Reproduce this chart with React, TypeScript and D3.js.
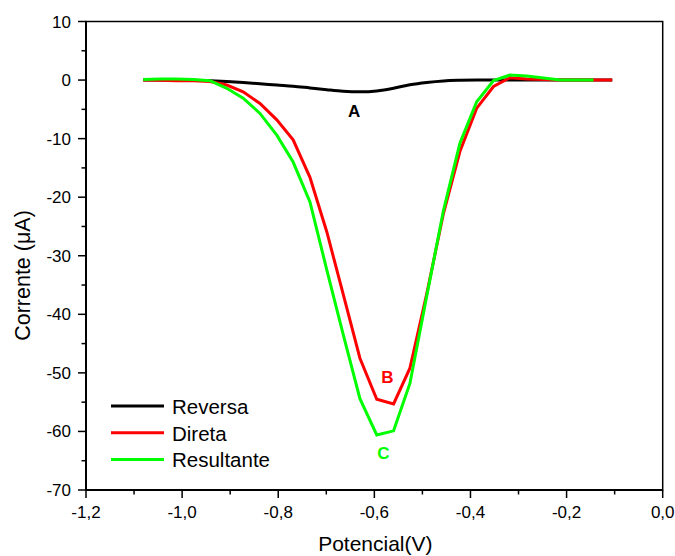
import React, { useEffect, useRef } from "react";
import * as d3 from "d3";

const potentials = [
  -1.081, -1.046, -1.012, -0.977, -0.942, -0.907, -0.873, -0.838, -0.803, -0.769,
  -0.734, -0.699, -0.665, -0.63, -0.595, -0.56, -0.526, -0.491, -0.456, -0.422,
  -0.387, -0.352, -0.318, -0.283, -0.248, -0.213, -0.179, -0.144, -0.105,
];

const reversa = [
  0.0, 0.0, 0.0, -0.02, -0.12, -0.25, -0.42, -0.62, -0.85, -1.05,
  -1.35, -1.65, -1.9, -2.0, -1.85, -1.4, -0.8, -0.4, -0.14, -0.04,
  0.0, 0.0, 0.0, 0.0, 0.0, 0.0, 0.0, 0.0, 0.0,
];

const direta = [
  0.0, -0.05, -0.1, -0.1, -0.25, -0.85, -2.0, -4.0, -6.8, -10.2,
  -16.6, -25.9, -36.5, -47.5, -54.5, -55.3, -49.2, -36.5, -22.7, -12.2,
  -4.8, -1.1, 0.4, 0.17, 0.1, 0.0, 0.0, 0.0, 0.0,
];

const resultante = [
  0.1, 0.2, 0.2, 0.1, -0.1, -1.4, -3.1, -5.7, -9.4, -14.0,
  -20.8, -32.4, -43.4, -54.4, -60.6, -59.9, -51.8, -36.9, -22.2, -10.8,
  -3.7, -0.1, 0.85, 0.68, 0.35, 0.0, 0.0, 0.0,
];

const xTicks = [-1.2, -1.0, -0.8, -0.6, -0.4, -0.2, 0.0];
const xTickLabels = ["-1,2", "-1,0", "-0,8", "-0,6", "-0,4", "-0,2", "0,0"];
const yTicks = [10, 0, -10, -20, -30, -40, -50, -60, -70];

const seriesNames = ["Reversa", "Direta", "Resultante"];
const seriesColors = ["#000000", "#ff0000", "#00ff00"];
const peakLabels = [
  { text: "A", x: -0.642, y: -2.0, color: "#000000", dy: 25.6 },
  { text: "B", x: -0.573, y: -55.3, color: "#ff0000", dy: -20.5 },
  { text: "C", x: -0.581, y: -60.6, color: "#00ff00", dy: 24.4 },
];

const FONT = "'Liberation Sans', Arial, Helvetica, sans-serif";

export default function App() {
  const ref = useRef<SVGSVGElement | null>(null);

  useEffect(() => {
    const svg = d3.select(ref.current);
    svg.selectAll("*").remove();

    const left = 86, right = 662.7, top = 21.5, bottom = 490;
    const x = d3.scaleLinear().domain([-1.2, 0]).range([left, right]);
    const y = d3.scaleLinear().domain([-70, 10]).range([bottom, top]);

    // frame
    svg.append("rect")
      .attr("x", left).attr("y", top)
      .attr("width", right - left).attr("height", bottom - top)
      .attr("fill", "none").attr("stroke", "#000").attr("stroke-width", 1.5);

    // data
    const allSeries = [reversa, direta, resultante];
    allSeries.forEach((vals, i) => {
      const pts: [number, number][] = vals.map((v, k) => [potentials[k], v]);
      const line = d3.line<[number, number]>()
        .x((d) => x(d[0]))
        .y((d) => y(d[1]))
        .curve(i === 0 ? d3.curveMonotoneX : d3.curveLinear);
      svg.append("path")
        .attr("d", line(pts) as string)
        .attr("fill", "none")
        .attr("stroke", seriesColors[i])
        .attr("stroke-width", 3)
        .attr("stroke-linejoin", "miter");
    });

    // axes
    const xAxis = svg.append("g").attr("transform", `translate(0,${bottom})`);
    xAxis.append("line").attr("x1", left).attr("x2", right).attr("y1", 0).attr("y2", 0)
      .attr("stroke", "#000").attr("stroke-width", 2);
    const xMinor = d3.range(-1.1, 0, 0.2);
    xMinor.forEach((t) => {
      xAxis.append("line").attr("x1", x(t)).attr("x2", x(t)).attr("y1", 0).attr("y2", 4.5)
        .attr("stroke", "#000").attr("stroke-width", 1.5);
    });
    xTicks.forEach((t, i) => {
      xAxis.append("line").attr("x1", x(t)).attr("x2", x(t)).attr("y1", 0).attr("y2", 8)
        .attr("stroke", "#000").attr("stroke-width", 1.5);
      xAxis.append("text").attr("x", x(t)).attr("y", 28)
        .attr("text-anchor", "middle").attr("font-family", FONT).attr("font-size", 17)
        .attr("fill", "#000").text(xTickLabels[i]);
    });

    const yAxis = svg.append("g");
    yAxis.append("line").attr("x1", left).attr("x2", left).attr("y1", top).attr("y2", bottom)
      .attr("stroke", "#000").attr("stroke-width", 2);
    d3.range(5, -70, -10).forEach((t) => {
      yAxis.append("line").attr("x1", left - 4.5).attr("x2", left).attr("y1", y(t)).attr("y2", y(t))
        .attr("stroke", "#000").attr("stroke-width", 1.5);
    });
    yTicks.forEach((t) => {
      yAxis.append("line").attr("x1", left - 8).attr("x2", left).attr("y1", y(t)).attr("y2", y(t))
        .attr("stroke", "#000").attr("stroke-width", 1.5);
      yAxis.append("text").attr("x", 71).attr("y", y(t) + 6)
        .attr("text-anchor", "end").attr("font-family", FONT).attr("font-size", 17)
        .attr("fill", "#000").text(String(t));
    });

    // axis titles
    svg.append("text").attr("x", (left + right) / 2 + 1).attr("y", 551)
      .attr("text-anchor", "middle").attr("font-family", FONT).attr("font-size", 21)
      .attr("fill", "#000").text("Potencial(V)");
    svg.append("text")
      .attr("transform", `translate(30,${(208 + 343) / 2}) rotate(-90)`)
      .attr("text-anchor", "middle").attr("font-family", FONT).attr("font-size", 21.5)
      .attr("fill", "#000").text("Corrente (μA)");

    // peak labels
    peakLabels.forEach((p) => {
      svg.append("text").attr("x", x(p.x)).attr("y", y(p.y) + p.dy)
        .attr("text-anchor", "middle").attr("font-family", FONT).attr("font-size", 17)
        .attr("font-weight", "bold").attr("fill", p.color).text(p.text);
    });

    // legend
    seriesNames.forEach((name, i) => {
      const ly = 406 + i * 26.7;
      svg.append("line").attr("x1", 111).attr("x2", 164).attr("y1", ly).attr("y2", ly)
        .attr("stroke", seriesColors[i]).attr("stroke-width", 3);
      svg.append("text").attr("x", 172).attr("y", ly + 8)
        .attr("font-family", FONT).attr("font-size", 20.5).attr("fill", "#000").text(name);
    });
  }, []);

  return (
    <svg
      ref={ref}
      width={675}
      height={556}
      style={{ position: "absolute", left: 0, top: 0, background: "#fff" }}
    />
  );
}
